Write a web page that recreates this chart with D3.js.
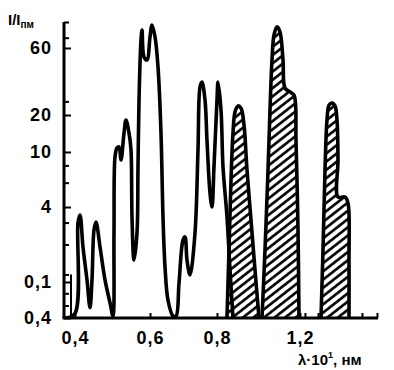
<!DOCTYPE html>
<html><head><meta charset="utf-8">
<script src="https://cdn.jsdelivr.net/npm/d3@7"></script>
<style>
html,body{margin:0;padding:0;background:#fff;}
svg{display:block;}
text{font-family:"Liberation Sans",Arial,sans-serif;fill:#000;}
</style></head>
<body>
<svg id="chart" width="394" height="370"></svg>
<script>
// ---- data (λ·10^x, relative intensity) ----
const xTickVals = [0.4, 0.6, 0.8, 1.2];
const xTickLabels = ["0,4", "0,6", "0,8", "1,2"];
const xMinorTicks = [1.224, 1.288, 1.502, 1.575];
const yTickVals = [0.4, 1, 4, 10, 20, 60];
const yTickLabels = ["0,4", "0,1", "4", "10", "20", "60"];
const yMinorTicks = [95, 72, 25, 8, 6, 3, 2, 1.15, 0.75, 0.55];

// open (unhatched) spectrum
const mainLambda = [0.375,0.4,0.408,0.4133,0.4213,0.432,0.44,0.4453,0.4507,0.456,0.4667,0.48,0.4933,0.5013,
  0.504,0.5067,0.512,0.5173,0.5227,0.5307,0.536,0.544,0.5493,0.552,0.5573,0.5653,0.568,0.5707,0.576,0.5787,
  0.584,0.592,0.6,0.606,0.615,0.6239,0.6328,0.6388,0.6448,0.6537,0.6687,0.6776,0.6866,0.6985,0.7045,0.7104,
  0.7194,0.7343,0.7433,0.7493,0.7552,0.7642,0.7701,0.7791,0.7851,0.791,0.8,0.8048,0.8193,0.8289,0.8482,0.8627,0.8771];
const mainI = [0.4,0.45,3.0,3.45,1.91,1.04,0.52,1.04,2.61,3.03,1.91,1.04,0.59,0.42,
  2.47,9.2,10.8,11.0,8.75,14.3,18.2,14.3,10.4,3.32,1.5,2.47,7.8,25.6,69.2,82.4,
  51.8,49.3,73,90.2,73,44,14.3,3.32,1.32,0.63,0.42,0.42,0.975,2.17,2.3,1.5,
  1.14,2.47,10.4,31.6,34.3,25.6,12.5,5.05,4.0,7.8,25.6,34.3,21.7,7.8,3.32,1.25,0.4];

// hatched peaks
const peak1Lambda = [0.848,0.8578,0.8675,0.8771,0.8867,0.9012,0.9157,0.9301,0.9446,0.9638,0.9831,1.0024];
const peak1I = [0.4,1.81,6.27,14.3,21.0,23.2,22.4,16.6,7.41,3.15,1.25,0.4];
const peak2Lambda = [1.0169,1.0313,1.0458,1.0554,1.0651,1.0747,1.0891,1.1036,1.1181,1.1277,1.1518,1.1711,1.1807,1.1904,1.1952];
const peak2I = [0.4,1.81,7.41,21.7,49.3,75.5,87.1,79.6,49.3,31.1,29.2,27.7,12.5,2.61,0.4];
const peak3Lambda = [1.3023,1.3121,1.3218,1.3315,1.3413,1.3559,1.3705,1.3803,1.3851,1.3851,1.4192,1.4338,1.4387,1.4387];
const peak3I = [0.4,1.81,7.41,18.2,23.5,24.3,23.2,18.2,8.75,4.72,4.72,4.27,1.5,0.4];

// ---- scales ----
const x = d3.scaleLinear()
  .domain([0.37, 0.4, 0.6, 0.8, 1.2, 1.58])
  .range([64, 75, 150, 217, 300, 378]);
const y = d3.scaleLog()
  .domain([0.4, 1, 4, 10, 20, 60, 95])
  .range([318, 282, 207, 152, 115, 48, 22]);

const svg = d3.select("#chart");

const defs = svg.append("defs");
const pat = defs.append("pattern")
  .attr("id", "hatch").attr("patternUnits", "userSpaceOnUse")
  .attr("width", 6.5).attr("height", 6.5)
  .attr("patternTransform", "rotate(-38)");
pat.append("rect").attr("width", 6.5).attr("height", 6.5).attr("fill", "#fff");
pat.append("line").attr("x1", 0).attr("x2", 6.5).attr("y1", 3.25).attr("y2", 3.25)
  .attr("stroke", "#000").attr("stroke-width", 2.6);
defs.append("clipPath").attr("id", "plotclip")
  .append("rect").attr("x", 60).attr("y", 0).attr("width", 330).attr("height", y(0.4));

const plot = svg.append("g").attr("clip-path", "url(#plotclip)");

const toPts = (L, I) => L.map((l, i) => [l, I[i]]);
const curve = d3.curveCatmullRom.alpha(0.5);
const line = d3.line().x(d => x(d[0])).y(d => y(d[1])).curve(curve);
const area = d3.area().x(d => x(d[0])).y0(y(0.4)).y1(d => y(d[1])).curve(curve);

[[peak1Lambda, peak1I], [peak2Lambda, peak2I], [peak3Lambda, peak3I]].forEach(([L, I]) => {
  const pts = toPts(L, I);
  plot.append("path").datum(pts).attr("d", area).attr("fill", "url(#hatch)");
  plot.append("path").datum(pts).attr("d", line)
    .attr("fill", "none").attr("stroke", "#000").attr("stroke-width", 3.6)
    .attr("stroke-linejoin", "round").attr("stroke-linecap", "round");
});

plot.append("path").datum(toPts(mainLambda, mainI)).attr("d", line)
  .attr("fill", "none").attr("stroke", "#000").attr("stroke-width", 3.6)
  .attr("stroke-linejoin", "round").attr("stroke-linecap", "round");

// ---- axes ----
const yAxis = d3.axisLeft(y).tickValues(yTickVals)
  .tickFormat((d, i) => yTickLabels[i]).tickSize(-7).tickPadding(12);
const gy = svg.append("g").attr("transform", "translate(64,0)").call(yAxis);
gy.select(".domain").remove();
gy.selectAll(".tick line").attr("stroke", "#000").attr("stroke-width", 2);
gy.selectAll("text").attr("font-size", 18).attr("font-weight", "bold")
  .attr("letter-spacing", "1px").attr("fill", "#000");

const yMinor = d3.axisLeft(y).tickValues(yMinorTicks).tickFormat("").tickSize(-5);
const gym = svg.append("g").attr("transform", "translate(64,0)").call(yMinor);
gym.select(".domain").remove();
gym.selectAll(".tick line").attr("stroke", "#000").attr("stroke-width", 2);

const xAxis = d3.axisBottom(x).tickValues(xTickVals)
  .tickFormat((d, i) => xTickLabels[i]).tickSize(-5).tickPadding(13);
const gx = svg.append("g").attr("transform", "translate(0,318)").call(xAxis);
gx.select(".domain").remove();
gx.selectAll(".tick line").attr("stroke", "#000").attr("stroke-width", 2);
gx.selectAll("text").attr("font-size", 18).attr("font-weight", "bold")
  .attr("letter-spacing", "1px").attr("fill", "#000");

const xMinor = d3.axisBottom(x).tickValues(xMinorTicks).tickFormat("").tickSize(-5);
const gxm = svg.append("g").attr("transform", "translate(0,318)").call(xMinor);
gxm.select(".domain").remove();
gxm.selectAll(".tick line").attr("stroke", "#000").attr("stroke-width", 2);

svg.append("line").attr("x1", 64).attr("x2", 64).attr("y1", y(95)).attr("y2", y(0.4))
  .attr("stroke", "#000").attr("stroke-width", 3);
svg.append("line").attr("x1", 62.5).attr("x2", x(1.58)).attr("y1", y(0.4)).attr("y2", y(0.4))
  .attr("stroke", "#000").attr("stroke-width", 3);
svg.append("line").attr("x1", 71).attr("x2", 71).attr("y1", y(1.15)).attr("y2", y(0.4))
  .attr("stroke", "#000").attr("stroke-width", 2);

const yt = svg.append("text").attr("x", 8).attr("y", 25)
  .attr("font-size", 15).attr("font-weight", "bold");
yt.append("tspan").text("I/I");
yt.append("tspan").attr("font-size", 10).attr("dy", 3).text("пм");

const xt = svg.append("text").attr("x", 298).attr("y", 365)
  .attr("font-size", 15).attr("font-weight", "bold");
xt.append("tspan").text("λ·10");
xt.append("tspan").attr("font-size", 9).attr("dy", -7).text("1");
xt.append("tspan").attr("dy", 7).text(", нм");
</script>
</body></html>
